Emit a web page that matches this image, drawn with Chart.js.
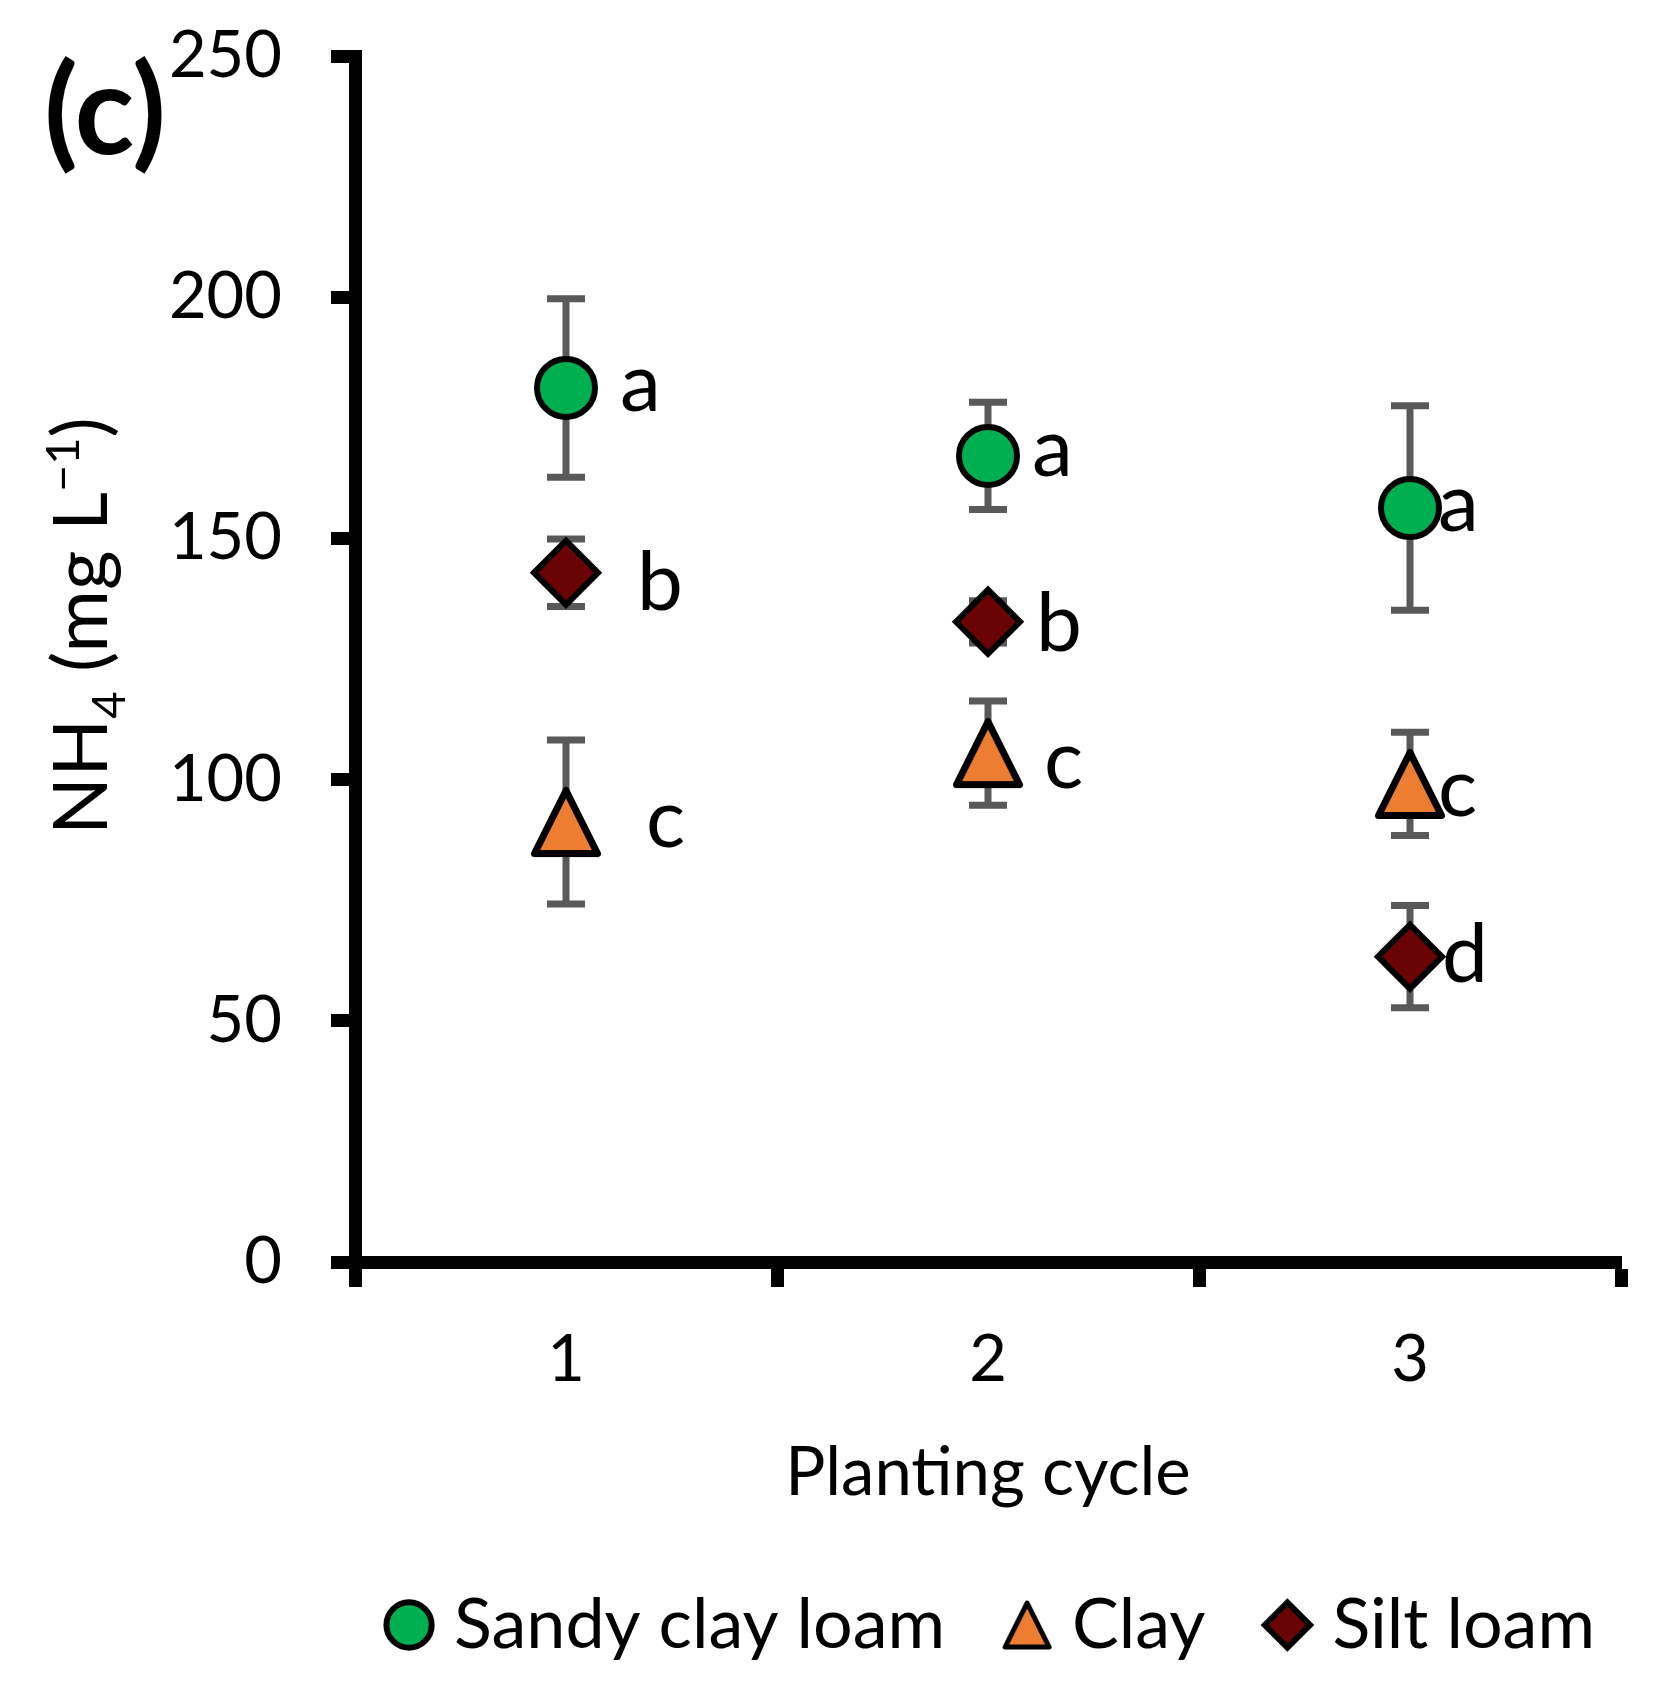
<!DOCTYPE html>
<html>
<head>
<meta charset="utf-8">
<script src="https://cdn.jsdelivr.net/npm/chart.js@4.4.1/dist/chart.umd.min.js"></script>
<style>
  html, body { margin: 0; padding: 0; background: #ffffff; }
  #wrap { width: 1659px; height: 1688px; }
</style>
</head>
<body>
<div id="wrap"><canvas id="c" width="1659" height="1688"></canvas></div>
<script>
// ---- data ----
const categories = ['1', '2', '3'];
const seriesNames = ['Sandy clay loam', 'Clay', 'Silt loam'];
const sandyClayLoam = [181.2, 167.1, 156.3];
const sandyClayLoamErr = [18.5, 11.1, 21.2];
const clay = [91.2, 105.5, 99.1];
const clayErr = [17.0, 10.8, 10.7];
const siltLoam = [142.9, 132.7, 63.3];
const siltLoamErr = [7.0, 4.4, 10.6];
const sandyClayLoamLetters = ['a', 'a', 'a'];
const clayLetters = ['c', 'c', 'c'];
const siltLoamLetters = ['b', 'b', 'd'];
const yTicks = [0, 50, 100, 150, 200, 250];

// ---- styles ----
const FONT = 'Lato';
const GREEN = '#00B050', ORANGE = '#ED7D31', MAROON = '#6A0404', ERR = '#595959';

function triangleCanvas(size, half, lw) {
  const c = document.createElement('canvas');
  c.width = size; c.height = size;
  const g = c.getContext('2d');
  const m = size / 2;
  g.beginPath();
  g.moveTo(m, m - half);
  g.lineTo(m + half, m + half);
  g.lineTo(m - half, m + half);
  g.closePath();
  g.fillStyle = ORANGE; g.fill();
  g.lineJoin = 'round';
  g.lineWidth = lw; g.strokeStyle = '#000'; g.stroke();
  return c;
}
const triPoint = triangleCanvas(84, 31.5, 7);
const triLegend = triangleCanvas(60, 22, 5);

// error bars (drawn under the markers)
const errorBarPlugin = {
  id: 'errorBars',
  beforeDatasetsDraw(chart) {
    const {ctx, scales: {x, y}} = chart;
    ctx.save();
    ctx.strokeStyle = ERR;
    ctx.lineWidth = 7;
    ctx.lineCap = 'butt';
    chart.data.datasets.forEach(ds => {
      ds.data.forEach((v, j) => {
        const e = ds.errorBars[j];
        const px = x.getPixelForValue(j);
        const t = y.getPixelForValue(v + e), b = y.getPixelForValue(v - e);
        ctx.beginPath();
        ctx.moveTo(px, t); ctx.lineTo(px, b);
        ctx.moveTo(px - 19, t); ctx.lineTo(px + 19, t);
        ctx.moveTo(px - 19, b); ctx.lineTo(px + 19, b);
        ctx.stroke();
      });
    });
    ctx.restore();
  }
};

// significance letters next to points
const letterOffsets = [
  [[54, 23], [44, 20], [28, 23]],
  [[80, 25], [56, 35], [28, 32]],
  [[71, 37], [48, 29], [32, 25]]
];
const letterPlugin = {
  id: 'letters',
  afterDatasetsDraw(chart) {
    const {ctx} = chart;
    ctx.save();
    ctx.font = '82px ' + FONT;
    ctx.fillStyle = '#000';
    ctx.textAlign = 'left';
    ctx.textBaseline = 'alphabetic';
    chart.data.datasets.forEach((ds, i) => {
      const meta = chart.getDatasetMeta(i);
      meta.data.forEach((pt, j) => {
        const o = letterOffsets[i][j];
        ctx.fillText(ds.letters[j], pt.x + o[0], pt.y + o[1]);
      });
    });
    ctx.restore();
  }
};

// centre the (full-width) legend under the plot area
const legendShiftPlugin = {
  id: 'legendShift',
  afterLayout(chart) {
    const lg = chart.legend;
    if (!lg) return;
    const dx = (chart.chartArea.left + chart.chartArea.right) / 2 - (lg.left + lg.right) / 2 + 9;
    lg.left += dx; lg.right += dx;
  }
};

// panel tag and y-axis title with sub/superscripts
const annotPlugin = {
  id: 'annot',
  afterDraw(chart) {
    const {ctx} = chart;
    ctx.save();
    ctx.fillStyle = '#000';
    ctx.font = 'bold 124px ' + FONT;
    ctx.textAlign = 'left';
    ctx.textBaseline = 'alphabetic';
    ctx.fillText('(c)', 44, 154);

    const big = '76px ' + FONT, small = '47px ' + FONT;
    const parts = [
      {t: 'NH', f: big, dy: 0},
      {t: '4', f: small, dy: 18},
      {t: ' (mg L', f: big, dy: 0},
      {t: '\u22121', f: small, dy: -28},
      {t: ')', f: big, dy: 0}
    ];
    let total = 0;
    parts.forEach(p => { ctx.font = p.f; p.w = ctx.measureText(p.t).width; total += p.w; });
    ctx.translate(107, 626);
    ctx.rotate(-Math.PI / 2);
    let cx = -total / 2;
    parts.forEach(p => { ctx.font = p.f; ctx.fillText(p.t, cx, p.dy); cx += p.w; });
    ctx.restore();
  }
};

const mk = (label, data, err, letters, color, style, radius, legendStyle) => ({
  label, data, errorBars: err, letters,
  showLine: false,
  backgroundColor: color,
  borderColor: '#000',
  borderWidth: 6,
  pointBackgroundColor: color,
  pointBorderColor: '#000',
  pointBorderWidth: 6,
  pointStyle: style,
  pointRadius: radius,
  legendPointStyle: legendStyle
});

new Chart(document.getElementById('c'), {
  type: 'line',
  data: {
    labels: categories,
    datasets: [
      mk(seriesNames[0], sandyClayLoam, sandyClayLoamErr, sandyClayLoamLetters, GREEN, 'circle', 29, null),
      mk(seriesNames[1], clay, clayErr, clayLetters, ORANGE, triPoint, 32, triLegend),
      mk(seriesNames[2], siltLoam, siltLoamErr, siltLoamLetters, MAROON, 'rectRot', 32, null)
    ]
  },
  options: {
    responsive: false,
    devicePixelRatio: 1,
    animation: false,
    events: [],
    layout: { padding: { top: 56, left: 0, right: 33, bottom: 18 } },
    plugins: {
      tooltip: { enabled: false },
      legend: {
        position: 'bottom',
        fullSize: true,
        labels: {
          usePointStyle: true,
          boxWidth: 20,
          boxHeight: 32,
          padding: 72,
          color: '#000',
          font: { family: FONT, size: 70 },
          generateLabels(chart) {
            const items = Chart.defaults.plugins.legend.labels.generateLabels(chart);
            items.forEach(it => {
              const ds = chart.data.datasets[it.datasetIndex];
              if (ds.legendPointStyle) it.pointStyle = ds.legendPointStyle;
            });
            return items;
          }
        }
      }
    },
    scales: {
      x: {
        type: 'category',
        offset: true,
        grid: { offset: true, drawOnChartArea: false, tickLength: 25, tickWidth: 13, tickColor: '#000' },
        border: { color: '#000', width: 13 },
        ticks: { color: '#000', font: { family: FONT, size: 65 }, padding: 34 },
        title: { display: true, text: 'Planting cycle', color: '#000', font: { family: FONT, size: 67, lineHeight: 0.85 }, padding: { top: 0, bottom: 16.5 } },
        afterFit(scale) { scale.height = 256; }
      },
      y: {
        min: 0, max: 250,
        afterBuildTicks(scale) { scale.ticks = yTicks.map(v => ({ value: v })); },
        grid: { drawOnChartArea: false, tickLength: 24, tickWidth: 13, tickColor: '#000' },
        border: { color: '#000', width: 13 },
        ticks: { color: '#000', font: { family: FONT, size: 65 }, padding: 49 },
        afterFit(scale) { scale.width = 355; scale.paddingTop = 30; scale.paddingBottom = 30; }
      }
    }
  },
  plugins: [errorBarPlugin, letterPlugin, legendShiftPlugin, annotPlugin]
});
</script>
</body>
</html>
